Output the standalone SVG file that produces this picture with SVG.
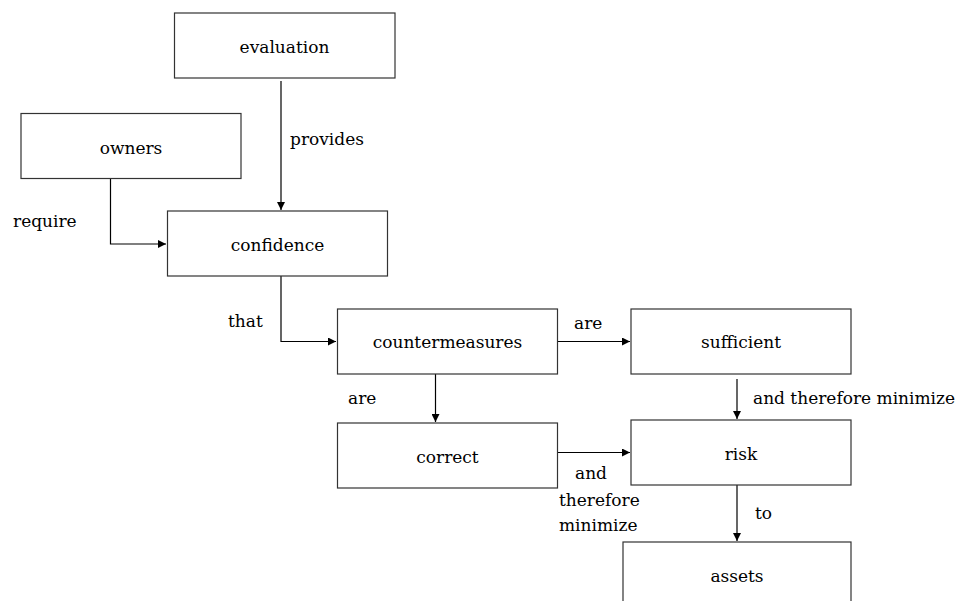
<svg xmlns="http://www.w3.org/2000/svg" width="959" height="601" viewBox="0 0 959 601">
<style>
.box{fill:#fff;stroke:#333;stroke-width:1.2}
.t{font-family:'DejaVu Serif',serif;font-size:17px;fill:#000}
.c{text-anchor:middle}
.ln{fill:none;stroke:#000;stroke-width:1.2}
</style>
<defs>
<marker id="ah" viewBox="0 0 10 10" refX="10" refY="5" markerWidth="8" markerHeight="8" markerUnits="userSpaceOnUse" orient="auto">
<path d="M0,0 L10,5 L0,10 Z" fill="#000"/>
</marker>
</defs>
<rect width="959" height="601" fill="#fff"/>
<g id="connectors">
<path class="ln" d="M281,81 V210" marker-end="url(#ah)"/>
<path class="ln" d="M110.5,179 V244 H166" marker-end="url(#ah)"/>
<path class="ln" d="M281,276 V341.5 H336" marker-end="url(#ah)"/>
<path class="ln" d="M558,341.5 H630" marker-end="url(#ah)"/>
<path class="ln" d="M435.5,374 V422" marker-end="url(#ah)"/>
<path class="ln" d="M558,452.5 H630" marker-end="url(#ah)"/>
<path class="ln" d="M737,379 V419" marker-end="url(#ah)"/>
<path class="ln" d="M737,485 V541" marker-end="url(#ah)"/>
<text class="t" x="290" y="145">provides</text>
<text class="t" x="13" y="227">require</text>
<text class="t" x="228" y="327">that</text>
<text class="t" x="574" y="329">are</text>
<text class="t" x="348" y="404">are</text>
<text class="t" x="753" y="404">and therefore minimize</text>
<text class="t" x="575" y="479">and</text>
<text class="t" x="559" y="505.5">therefore</text>
<text class="t" x="559" y="530.5">minimize</text>
<text class="t" x="755" y="519">to</text>
</g>
<g id="evaluation"><rect class="box" x="174.5" y="13" width="220.5" height="65"/><text class="t c" x="284.5" y="53">evaluation</text></g>
<g id="owners"><rect class="box" x="21" y="113.5" width="220" height="65"/><text class="t c" x="131" y="154">owners</text></g>
<g id="confidence"><rect class="box" x="167.5" y="211" width="220" height="65"/><text class="t c" x="277.5" y="251">confidence</text></g>
<g id="countermeasures"><rect class="box" x="337.5" y="309" width="220" height="65"/><text class="t c" x="447.5" y="348">countermeasures</text></g>
<g id="sufficient"><rect class="box" x="631" y="309" width="220" height="65"/><text class="t c" x="741" y="348">sufficient</text></g>
<g id="correct"><rect class="box" x="337.5" y="423" width="220" height="65"/><text class="t c" x="447.5" y="463">correct</text></g>
<g id="risk"><rect class="box" x="631" y="420" width="220" height="65"/><text class="t c" x="741" y="460">risk</text></g>
<g id="assets"><rect class="box" x="623" y="542" width="228" height="70"/><text class="t c" x="737" y="582">assets</text></g>
</svg>
